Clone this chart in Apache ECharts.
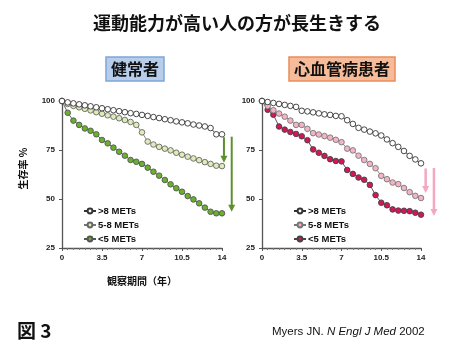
<!DOCTYPE html>
<html><head><meta charset="utf-8">
<script src="https://cdn.jsdelivr.net/npm/echarts@6/dist/echarts.min.js"></script>
<style>html,body{margin:0;padding:0;background:#fff}#c{width:450px;height:350px}</style>
</head><body><div id="c"></div>
<script>
// ---- data ----
const times = [0,0.5,1,1.5,2,2.5,3,3.5,4,4.5,5,5.5,6,6.5,7,7.5,8,8.5,9,9.5,10,10.5,11,11.5,12,12.5,13,13.5,14];
const xTickLabels = ['0','3.5','7','10.5','14'];
const yTickLabels = ['25','50','75','100'];
const legendLabels = ['>8 METs','5-8 METs','<5 METs'];
const panelTitles = ['健常者','心血管病患者'];
// 健常者
const healthyHigh = [100,99.3,98.8,98.3,97.8,97.3,96.8,96.3,95.8,95.3,94.8,94.3,93.8,93.4,92.9,92.4,91.8,91.3,90.7,90.2,89.6,89.1,88.6,88.0,87.5,87.0,86.2,83.0,83.0];
const healthyMid  = [100,98.5,97.5,96.8,96.0,95.2,94.3,93.5,92.7,92.0,91.2,90.3,89.3,87.8,84.0,79.3,77.8,76.6,75.7,74.8,73.6,72.6,71.6,70.7,69.8,68.8,67.9,67.0,66.8];
const healthyLow  = [100,94.0,90.0,87.8,86.0,84.8,83.0,80.1,78.4,76.2,74.1,72.1,69.9,69.0,67.9,66.0,63.9,61.9,59.7,57.5,55.5,53.7,51.5,49.8,47.8,45.6,43.5,42.7,42.7];
// 心血管病患者
const cvdHigh = [100,99.5,99.0,98.5,98.0,97.5,97.0,95.0,94.7,94.2,93.7,93.2,92.9,92.4,92.2,90.2,88.3,86.3,85.4,84.4,83.5,82.4,80.4,78.5,76.6,74.5,72.0,70.2,68.2];
const cvdMid  = [100,97.5,95.3,93.6,92.0,90.0,87.8,87.8,85.8,83.6,82.9,82.1,81.3,80.2,79.0,75.7,74.8,72.1,69.9,67.9,65.7,61.8,60.1,58.4,57.6,55.6,53.5,51.6,50.5];
const cvdLow  = [100,95.5,93.0,87.0,85.4,84.2,83.2,82.0,80.0,75.3,73.6,72.0,70.3,69.4,69.2,64.8,62.8,61.0,59.8,57.2,52.0,48.1,46.8,44.7,44.1,44.0,43.8,43.0,42.0];
// arrow annotations: [gridIndex, x, yFrom, yTo]
const arrows = [[0,14.17,81.5,68.5],[0,14.85,81.8,43.5],[1,14.41,65.6,53.0],[1,15.14,65.8,41.3]];

const chart = echarts.init(document.getElementById('c'));
const LAT = 'Liberation Sans, Arial, sans-serif';
const CJK = 'Noto Sans CJK JP, sans-serif';
const pts = v => times.map((t,i)=>[t, v[i]]);

function mk(name, vals, gi, fill, border, lineC, z){
  return {type:'line', name:name, xAxisIndex:gi, yAxisIndex:gi, data:pts(vals),
    symbol:'circle', symbolSize:5.6, showSymbol:true,
    lineStyle:{color:lineC, width:0.9},
    itemStyle:{color:fill, borderColor:border, borderWidth:0.9},
    emphasis:{disabled:true}, animation:false, z:z};
}
function xAx(gi, withName){
  return {type:'value', gridIndex:gi, min:0, max:14, interval:3.5,
    axisLine:{lineStyle:{color:'#555', width:1.3}},
    axisTick:{show:true, length:3, lineStyle:{color:'#555'}},
    minorTick:{show:true, splitNumber:7, length:2, lineStyle:{color:'#777'}},
    splitLine:{show:false},
    axisLabel:{fontSize:8, fontWeight:'bold', color:'#222', fontFamily:LAT, margin:6,
      formatter: v => xTickLabels.find(s=>Number(s)===v) || ''},
    name: withName ? '観察期間（年）' : '', nameLocation:'middle', nameGap:28,
    nameTextStyle:{fontSize:10, fontWeight:'bold', color:'#111', fontFamily:CJK}};
}
function yAx(gi, withName){
  return {type:'value', gridIndex:gi, min:25, max:100, interval:25,
    axisLine:{show:true, lineStyle:{color:'#555', width:1.3}},
    axisTick:{show:true, length:3, lineStyle:{color:'#555'}},
    splitLine:{show:false},
    axisLabel:{fontSize:8, fontWeight:'bold', color:'#222', fontFamily:LAT, margin:7,
      formatter: v => yTickLabels.find(s=>Number(s)===v) || ''},
    name: withName ? '生存率 %' : '', nameLocation:'middle', nameGap:34, nameRotate:90,
    nameTextStyle:{fontSize:10, fontWeight:'bold', color:'#111', fontFamily:CJK, padding:[0,0,0,12]}};
}
function legend(gi, left, top){
  return {left:left, top:top, orient:'vertical', itemGap:4, itemWidth:12, itemHeight:6,
    data:legendLabels.map(l=>gi+':'+l), formatter:n=>n.slice(2), selectedMode:false,
    textStyle:{fontSize:9.5, fontWeight:'bold', color:'#111', fontFamily:LAT, padding:[0,0,0,-3]}};
}

chart.setOption({
  animation:false,
  backgroundColor:'#fff',
  title:[
    {text:'運動能力が高い人の方が長生きする', left:88, top:9,
      textStyle:{fontSize:18, fontWeight:'bold', color:'#111', fontFamily:CJK}},
    {text:panelTitles[0], left:106, top:57, padding:[3,5,3,5], backgroundColor:'#b7cdea', borderColor:'#7ea6d8', borderWidth:1.5,
      textStyle:{fontSize:16, fontWeight:'bold', color:'#111', fontFamily:CJK, lineHeight:18}},
    {text:panelTitles[1], left:289, top:57, padding:[3,5,3,5], backgroundColor:'#f6bb98', borderColor:'#ea8c5c', borderWidth:1.5,
      textStyle:{fontSize:16, fontWeight:'bold', color:'#111', fontFamily:CJK, lineHeight:18}},
    {text:'図 3', left:12, top:316, textStyle:{fontSize:19, fontWeight:'bold', color:'#111', fontFamily:CJK}},
    {text:'Myers JN. {i|N Engl J Med} 2002', left:267, top:321,
      textStyle:{fontSize:11.5, fontWeight:'normal', color:'#111', fontFamily:LAT,
        rich:{i:{fontSize:11.5, fontStyle:'italic', color:'#111', fontFamily:LAT}}}}
  ],
  legend:[legend(0,78,201), legend(1,288,201)],
  grid:[
    {left:62, right:228, top:101, bottom:102, containLabel:false},
    {left:262, right:29, top:101, bottom:102, containLabel:false}
  ],
  xAxis:[xAx(0,true), xAx(1,false)],
  yAxis:[yAx(0,true), yAx(1,false)],
  series:[
    mk('0:'+legendLabels[0], healthyHigh, 0, '#ffffff', '#333', '#333', 5),
    mk('0:'+legendLabels[1], healthyMid, 0, '#dfecb9', '#666', '#777', 4),
    mk('0:'+legendLabels[2], healthyLow, 0, '#69b12c', '#555', '#555', 3),
    mk('1:'+legendLabels[0], cvdHigh, 1, '#ffffff', '#333', '#333', 5),
    mk('1:'+legendLabels[1], cvdMid, 1, '#f3b5c6', '#777', '#777', 4),
    mk('1:'+legendLabels[2], cvdLow, 1, '#d5145a', '#444', '#444', 3)
  ]
});

const g = [];
arrows.forEach(a=>{
  const p0 = chart.convertToPixel({gridIndex:a[0]}, [a[1], a[2]]);
  const p1 = chart.convertToPixel({gridIndex:a[0]}, [a[1], a[3]]);
  const col = a[0]===0 ? '#5d8f2c' : '#f4a7c3';
  const w = a[0]===0 ? 2 : 2.5;
  g.push({type:'line', shape:{x1:p0[0], y1:p0[1], x2:p1[0], y2:p1[1]-5}, style:{stroke:col, lineWidth:w}, silent:true, z:10});
  g.push({type:'polygon', shape:{points:[[p1[0]-3.5,p1[1]-7],[p1[0]+3.5,p1[1]-7],[p1[0],p1[1]]]}, style:{fill:col}, silent:true, z:10});
});
chart.setOption({graphic:g});
</script>
</body></html>
